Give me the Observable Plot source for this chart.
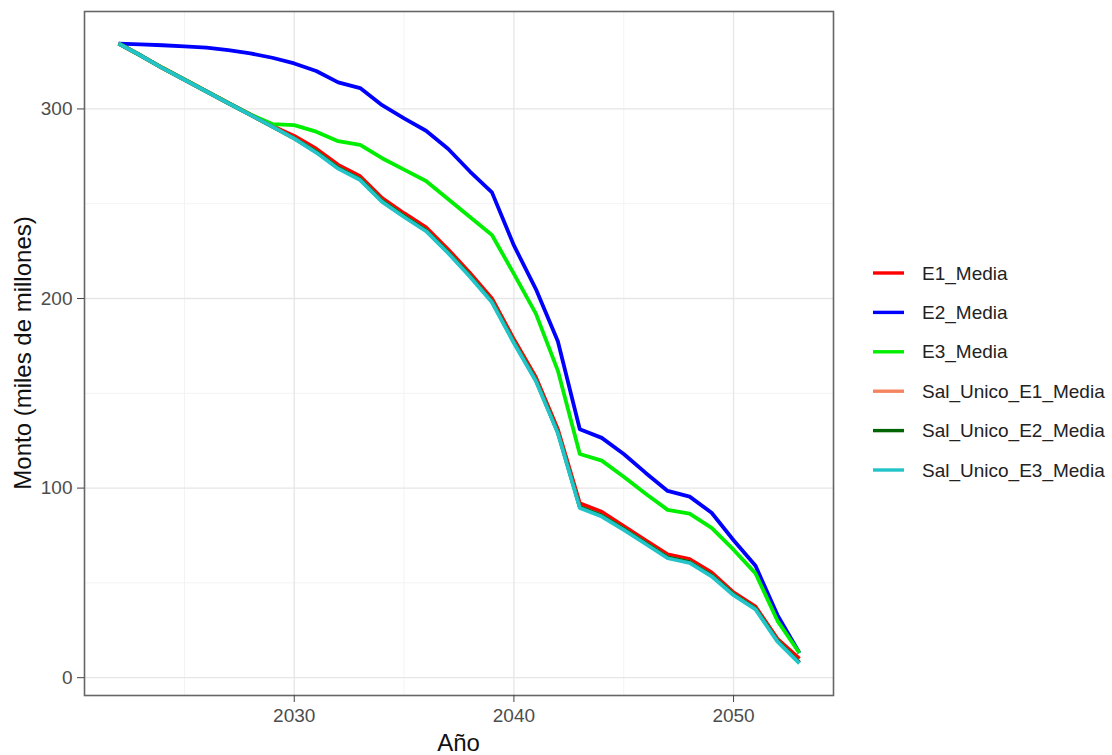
<!DOCTYPE html>
<html>
<head>
<meta charset="utf-8">
<script src="https://cdn.jsdelivr.net/npm/d3@7"></script>
<script src="https://cdn.jsdelivr.net/npm/@observablehq/plot@0.6"></script>
<style>
  html, body { margin: 0; padding: 0; background: #fff; }
  #chart { width: 1112px; height: 755px; position: relative; }
</style>
</head>
<body>
<div id="chart"></div>
<script>
const years = [2022,2023,2024,2025,2026,2027,2028,2029,2030,2031,2032,2033,2034,2035,2036,2037,2038,2039,2040,2041,2042,2043,2044,2045,2046,2047,2048,2049,2050,2051,2052,2053];

const seriesNames = ["E1_Media","E2_Media","E3_Media","Sal_Unico_E1_Media","Sal_Unico_E2_Media","Sal_Unico_E3_Media"];
const seriesColors = ["#ff0000","#0000ff","#00ee00","#f4845f","#006400","#22c3c9"];

const e1 = [334.5,328.3,321.7,315.6,309.4,303.2,297.1,291,285.8,279,270.5,264.5,253,245,237.5,226,213.5,200,178.5,158.5,131,92,87.5,80,72.5,65,62.5,55.5,45,37.5,20.5,10];
const e2 = [334.5,334.1,333.6,333,332.3,331,329.3,327,324,320,314,311,302,295,288.5,279,267,256,228,205,177.5,131,126.5,118,108,98.5,95.5,87,72.5,59,33,13];
const e3 = [334.5,328.3,321.7,315.6,309.4,303.2,297.1,292,291.5,288,283,281,274,268,262,252.5,243,233.5,213,192,162,118,114.5,106,97,88.5,86.5,79,67.5,55,30,13];
const sal1 = [334.5,328.2,321.5,315.4,309.2,303,296.9,290.7,284.5,277.5,269,263,251.5,243.5,236,224.5,212,198.5,177,157,129.5,90,85.5,78.5,71,63.5,61,54,44,36.5,19.5,8];
const sal2 = [334.5,328.2,321.5,315.4,309.2,303,296.9,290.7,284.5,277.5,269,263,251.5,243.5,236,224.5,212,198.5,177,157,129.5,90,85.5,78.5,71,63.5,61,54,44,36.5,19.5,8];
const sal3 = [334.5,328.2,321.5,315.4,309.2,303,296.9,290.7,284.3,277,268.5,262.5,251,243,235.5,224,211.5,198,176.5,156.5,129,89.5,85,78,70.5,63,60.5,53.5,43.5,36,19,7.5];

const yTicks = [0,100,200,300];
const yMinor = [50,150,250];
const xTicks = [2030,2040,2050];
const xMinor = [2025,2035,2045];

const allValues = [e1,e2,e3,sal1,sal2,sal3];
const rows = [];
seriesNames.forEach((name, i) => {
  years.forEach((yr, j) => rows.push({year: yr, value: allValues[i][j], series: name}));
});

const W = 1112, H = 755;
const mL = 84, mR = 279, mT = 11, mB = 60;

const lineMarks = seriesNames.map(name =>
  Plot.line(rows.filter(r => r.series === name), {
    x: "year", y: "value", stroke: "series", strokeWidth: 3.8, strokeLinejoin: "round", strokeLinecap: "butt"
  })
);

const plot = Plot.plot({
  width: W,
  height: H,
  marginLeft: mL,
  marginRight: mR,
  marginTop: mT,
  marginBottom: mB,
  style: { fontFamily: "'Liberation Sans', Arial, sans-serif", fontSize: "19px", background: "#fff" },
  x: { domain: [2020.45, 2054.55], label: null },
  y: { domain: [-9.4, 351.4], label: null },
  color: { domain: seriesNames, range: seriesColors },
  marks: [
    Plot.gridX(xMinor, { stroke: "#f3f3f3", strokeOpacity: 1, strokeWidth: 1 }),
    Plot.gridY(yMinor, { stroke: "#f3f3f3", strokeOpacity: 1, strokeWidth: 1 }),
    Plot.gridX(xTicks, { stroke: "#e6e6e6", strokeOpacity: 1, strokeWidth: 1.3 }),
    Plot.gridY(yTicks, { stroke: "#e6e6e6", strokeOpacity: 1, strokeWidth: 1.3 }),
    ...lineMarks,
    Plot.frame({ stroke: "#666", strokeWidth: 1.6 }),
    Plot.axisX(xTicks, { tickSize: 7, tickPadding: 6, tickFormat: d => String(d), fontSize: 19, fill: "#4d4d4d", stroke: "#444", label: null }),
    Plot.axisY(yTicks, { tickSize: 7, tickPadding: 5, tickFormat: d => String(d), fontSize: 19, fill: "#4d4d4d", stroke: "#444", label: null })
  ]
});

document.getElementById("chart").appendChild(plot);

const svg = d3.select(plot);
const font = "'Liberation Sans', Arial, sans-serif";

// axis titles
svg.append("text")
  .attr("transform", `translate(31,${(mT + H - mB) / 2}) rotate(-90)`)
  .attr("text-anchor", "middle")
  .attr("font-family", font)
  .attr("font-size", 24)
  .attr("fill", "#111")
  .text("Monto (miles de millones)");

svg.append("text")
  .attr("x", (mL + W - mR) / 2)
  .attr("y", 751)
  .attr("text-anchor", "middle")
  .attr("font-family", font)
  .attr("font-size", 24)
  .attr("fill", "#111")
  .text("Año");

// legend
const legend = svg.append("g").attr("transform", "translate(873,273)");
seriesNames.forEach((name, i) => {
  const g = legend.append("g").attr("transform", `translate(0,${i * 39.4})`);
  g.append("line").attr("x1", 0).attr("x2", 31).attr("y1", 0).attr("y2", 0)
    .attr("stroke", seriesColors[i]).attr("stroke-width", 3.4);
  g.append("text").attr("x", 49).attr("y", 0).attr("dy", "0.35em")
    .attr("text-anchor", "start")
    .attr("font-family", font).attr("font-size", 19).attr("fill", "#222")
    .text(name);
});
</script>
</body>
</html>
